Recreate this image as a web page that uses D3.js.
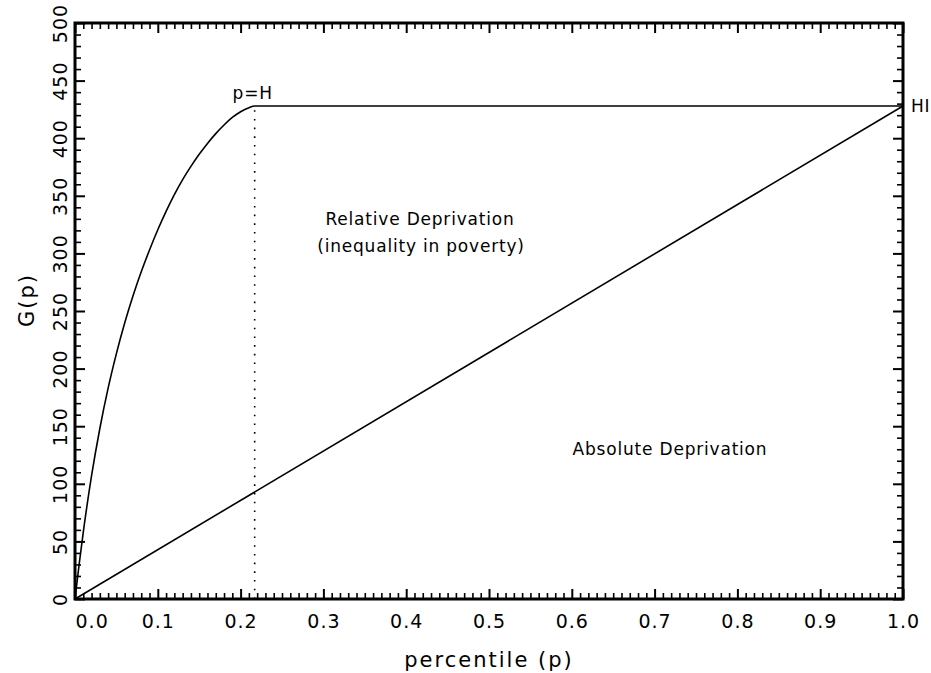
<!DOCTYPE html>
<html>
<head>
<meta charset="utf-8">
<script src="https://cdn.jsdelivr.net/npm/d3@7"></script>
<style>
  html, body { margin: 0; padding: 0; background: #fff; }
  text { font-family: "DejaVu Sans", sans-serif; fill: #000; }
</style>
</head>
<body>
<svg id="chart" width="931" height="673"></svg>
<script>
// ---- data ----
const tipP = [0, 0.005, 0.01, 0.02, 0.03, 0.04, 0.05, 0.06, 0.07, 0.08, 0.09, 0.10,
              0.11, 0.12, 0.13, 0.14, 0.15, 0.16, 0.17, 0.18, 0.19, 0.20, 0.21, 0.217, 1.0];
const tipG = [0, 30, 58, 107, 148, 183, 213, 239.5, 263, 284, 303, 320.5,
              336.5, 351, 364, 375.5, 386, 395.5, 404, 411.5, 418, 423, 426.5, 428, 428];
const absP = [0, 1.0];
const absG = [0, 428];
const headcountH = 0.217;
const povertyHI = 428;
const xTicks = [0, 0.1, 0.2, 0.3, 0.4, 0.5, 0.6, 0.7, 0.8, 0.9, 1.0];
const yTicks = [0, 50, 100, 150, 200, 250, 300, 350, 400, 450, 500];
const xLabel = "percentile (p)";
const yLabel = "G(p)";

// ---- layout ----
const svg = d3.select("#chart");
const L = 75, R = 903, T = 23, B = 599;
const x = d3.scaleLinear().domain([0, 1]).range([L, R]);
const y = d3.scaleLinear().domain([0, 500]).range([B, T]);

svg.append("rect").attr("width", 931).attr("height", 673).attr("fill", "#fff");

const xMinor = d3.range(0, 101).map(i => i / 100).filter(v => Math.round(v * 100) % 10 !== 0);
const yMinor = d3.range(0, 501, 10).filter(v => v % 50 !== 0);

function styleAxis(g, w) {
  g.select(".domain").remove();
  g.selectAll("line").attr("stroke", "#000").attr("stroke-width", w);
}

// minor ticks (all four sides)
svg.append("g").attr("transform", `translate(0,${B})`)
  .call(d3.axisBottom(x).tickValues(xMinor).tickSize(-6).tickFormat(""))
  .call(g => styleAxis(g, 1.6));
svg.append("g").attr("transform", `translate(0,${T})`)
  .call(d3.axisTop(x).tickValues(xMinor).tickSize(-6).tickFormat(""))
  .call(g => styleAxis(g, 1.6));
svg.append("g").attr("transform", `translate(${L},0)`)
  .call(d3.axisLeft(y).tickValues(yMinor).tickSize(-6).tickFormat(""))
  .call(g => styleAxis(g, 1.6));
svg.append("g").attr("transform", `translate(${R},0)`)
  .call(d3.axisRight(y).tickValues(yMinor).tickSize(-6).tickFormat(""))
  .call(g => styleAxis(g, 1.6));

// major ticks
const xAxisG = svg.append("g").attr("transform", `translate(0,${B})`)
  .call(d3.axisBottom(x).tickValues(xTicks).tickSize(-10).tickPadding(16).tickFormat(d3.format(".1f")))
  .call(g => styleAxis(g, 2));
xAxisG.selectAll("text").attr("font-size", 19).attr("letter-spacing", 1)
  .attr("font-family", "DejaVu Sans, sans-serif").attr("fill", "#000");
xAxisG.selectAll("text").filter(d => d === 0).attr("text-anchor", "start");

svg.append("g").attr("transform", `translate(0,${T})`)
  .call(d3.axisTop(x).tickValues(xTicks).tickSize(-10).tickFormat(""))
  .call(g => styleAxis(g, 2));

const yAxisG = svg.append("g").attr("transform", `translate(${L},0)`)
  .call(d3.axisLeft(y).tickValues(yTicks).tickSize(-10).tickFormat(d3.format("d")))
  .call(g => styleAxis(g, 2));
yAxisG.selectAll("text")
  .attr("x", 0).attr("y", 0).attr("dy", 0)
  .attr("text-anchor", "middle")
  .attr("transform", "translate(-8,0) rotate(-90)")
  .attr("font-size", 19).attr("letter-spacing", 1)
  .attr("font-family", "DejaVu Sans, sans-serif").attr("fill", "#000");

svg.append("g").attr("transform", `translate(${R},0)`)
  .call(d3.axisRight(y).tickValues(yTicks).tickSize(-10).tickFormat(""))
  .call(g => styleAxis(g, 2));

// frame
svg.append("rect").attr("x", L).attr("y", T).attr("width", R - L).attr("height", B - T)
  .attr("fill", "none").attr("stroke", "#000").attr("stroke-width", 3);

// curves
const line = d3.line().x(d => x(d[0])).y(d => y(d[1])).curve(d3.curveMonotoneX);
svg.append("path").datum(tipP.map((p, i) => [p, tipG[i]]))
  .attr("d", line).attr("fill", "none").attr("stroke", "#000").attr("stroke-width", 1.6)
  .attr("stroke-linejoin", "round");
svg.append("path").datum(absP.map((p, i) => [p, absG[i]]))
  .attr("d", line).attr("fill", "none").attr("stroke", "#000").attr("stroke-width", 1.6);

// dotted line at p = H
svg.append("line")
  .attr("x1", x(headcountH)).attr("x2", x(headcountH))
  .attr("y1", y(0)).attr("y2", y(povertyHI))
  .attr("stroke", "#000").attr("stroke-width", 1.6).attr("stroke-dasharray", "1.6,7.1");

// annotations
svg.append("text").attr("x", x(headcountH) - 2).attr("y", y(povertyHI) - 7)
  .attr("text-anchor", "middle").attr("font-size", 17).attr("letter-spacing", 0.8).text("p=H");
svg.append("text").attr("x", R + 8).attr("y", y(povertyHI) + 6)
  .attr("text-anchor", "start").attr("font-size", 17).attr("letter-spacing", 0.8).text("HI");
svg.append("text").attr("x", 420).attr("y", 225)
  .attr("text-anchor", "middle").attr("font-size", 17).attr("letter-spacing", 0.8).text("Relative Deprivation");
svg.append("text").attr("x", 421).attr("y", 252)
  .attr("text-anchor", "middle").attr("font-size", 17).attr("letter-spacing", 0.8).text("(inequality in poverty)");
svg.append("text").attr("x", 670).attr("y", 455)
  .attr("text-anchor", "middle").attr("font-size", 17).attr("letter-spacing", 0.8).text("Absolute Deprivation");

// axis titles
svg.append("text").attr("x", 489).attr("y", 667)
  .attr("text-anchor", "middle").attr("font-size", 21).attr("letter-spacing", 2).text(xLabel);
svg.append("text").attr("transform", "translate(34,300) rotate(-90)")
  .attr("text-anchor", "middle").attr("font-size", 21).attr("letter-spacing", 2).text(yLabel);
</script>
</body>
</html>
